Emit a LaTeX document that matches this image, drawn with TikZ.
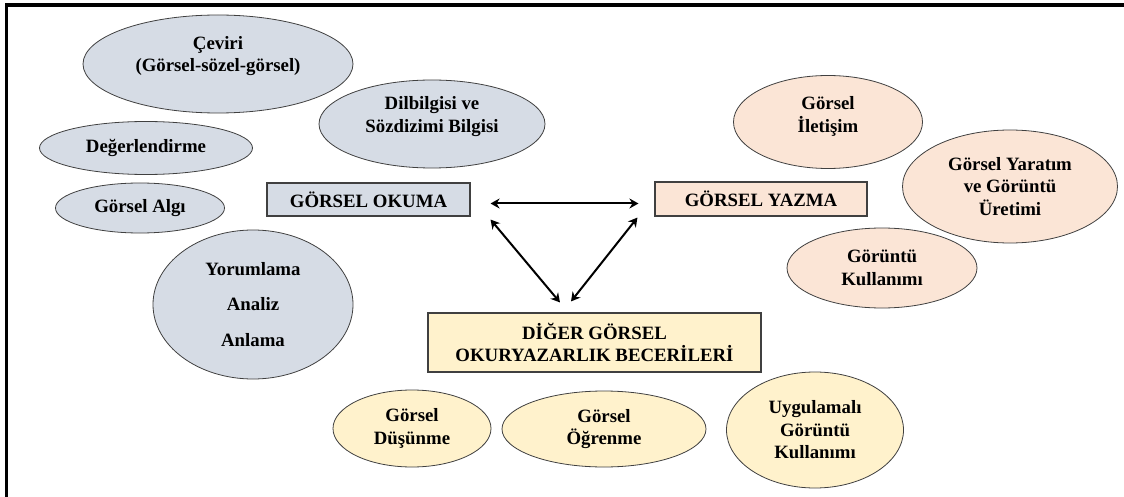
\documentclass[tikz,border=0pt]{standalone}
\usepackage{fontspec}
\setmainfont{Liberation Serif}
\usetikzlibrary{shapes.geometric,arrows.meta}
\definecolor{grayfill}{HTML}{D6DCE5}
\definecolor{peachfill}{HTML}{FBE5D6}
\definecolor{yellowfill}{HTML}{FFF2CC}
\definecolor{edge}{HTML}{404040}
\tikzset{
  ell/.style={ellipse, draw=edge, line width=0.8pt, inner sep=0pt, align=center},
  box/.style={rectangle, draw=edge, line width=1.1pt, inner sep=0pt, align=center},
  gr/.style={fill=grayfill},
  pe/.style={fill=peachfill},
  ye/.style={fill=yellowfill},
  arr/.style={line width=2pt, {Stealth[length=9pt,width=10pt]}-{Stealth[length=9pt,width=10pt]}}
}
\begin{document}
\begin{tikzpicture}[x=1pt,y=-1pt,font=\fontsize{18.8}{22.5}\selectfont\bfseries]
\useasboundingbox (0,0) rectangle (1124,497);
\fill[white] (0,0) rectangle (1124,497);
\draw[line width=3.5pt] (6.5,497) -- (6.5,5.2) -- (1124,5.2);
% gray group
\node[ell,gr,minimum width=270pt,minimum height=98pt] (cev) at (218,64) {Çeviri\\(Görsel-sözel-görsel)\rule[-20pt]{0pt}{0pt}};
\node[ell,gr,minimum width=226pt,minimum height=88pt] (dil) at (432,124) {Dilbilgisi ve\\Sözdizimi Bilgisi\rule[-19pt]{0pt}{0pt}};
\node[ell,gr,minimum width=213pt,minimum height=53pt] (deg) at (146,148) {Değerlendirme};
\node[ell,gr,minimum width=169pt,minimum height=50pt] (alg) at (140,208) {Görsel Algı};
\node[ell,gr,minimum width=200pt,minimum height=149pt] (yor) at (253,304.5) {Yorumlama\\[13pt]Analiz\\[13pt]Anlama};
% boxes
\node[box,gr,minimum width=203pt,minimum height=33pt] (ok) at (368.5,199.5) {GÖRSEL OKUMA};
\node[box,pe,minimum width=212pt,minimum height=34pt] (yz) at (761,199) {GÖRSEL YAZMA};
\node[box,ye,minimum width=333pt,minimum height=59pt] (dg) at (594.5,342.5) {DİĞER GÖRSEL\\OKURYAZARLIK BECERİLERİ};
% peach group
\node[ell,pe,minimum width=189pt,minimum height=93pt] (ilt) at (828,122) {Görsel\\İletişim\rule[-15pt]{0pt}{0pt}};
\node[ell,pe,minimum width=215pt,minimum height=113pt] (yar) at (1010,186.5) {Görsel Yaratım\\ve Görüntü\\Üretimi};
\node[ell,pe,minimum width=190pt,minimum height=80pt] (gku) at (882,268) {Görüntü\\Kullanımı};
% yellow group
\node[ell,ye,minimum width=158pt,minimum height=77pt] (dus) at (412,428.5) {Görsel\\Düşünme};
\node[ell,ye,minimum width=204pt,minimum height=76pt] (ogr) at (604,429) {Görsel\\Öğrenme};
\node[ell,ye,minimum width=177pt,minimum height=116pt] (uyg) at (815,430) {Uygulamalı\\Görüntü\\Kullanımı};
% arrows
\draw[arr] ([shift={(20,4)}]ok.east) -- ([shift={(-16,4.5)}]yz.west);
\draw[arr] ([shift={(20,3)}]ok.south east) -- ([shift={(-34.5,-10)}]dg.north);
\draw[arr] ([shift={(-17,1)}]yz.south west) -- ([shift={(-23.5,-11)}]dg.north);
\end{tikzpicture}
\end{document}
